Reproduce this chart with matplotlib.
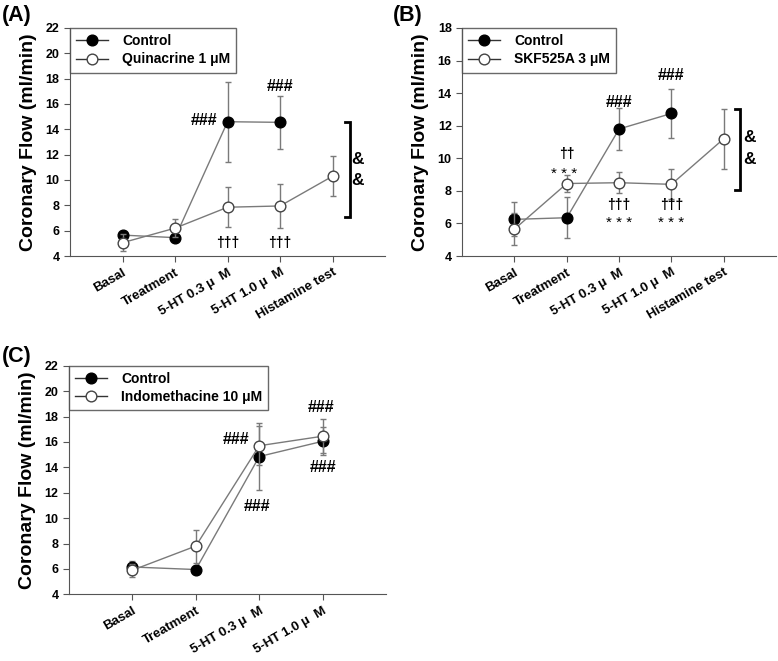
import numpy as np
import matplotlib
matplotlib.use("Agg")
import matplotlib.pyplot as plt
from matplotlib.lines import Line2D

plt.rcParams["font.family"] = ["Liberation Sans", "DejaVu Sans"]
plt.rcParams["font.weight"] = "bold"

# ------------------------------------------------------------------
# Datos
# ------------------------------------------------------------------
cats5 = ["Basal", "Treatment", "5-HT 0.3 \u03bc  M", "5-HT 1.0 \u03bc  M", "Histamine test"]
cats4 = cats5[:4]

# (A) Quinacrine
a_ctrl     = [5.65, 5.45, 14.6, 14.55, np.nan]
a_ctrl_err = [0.25, 0.2, 3.15, 2.1, np.nan]
a_trt      = [5.05, 6.2, 7.85, 7.95, 10.3]
a_trt_err  = [0.65, 0.7, 1.6, 1.75, 1.58]

# (B) SKF525A
b_ctrl     = [6.25, 6.35, 11.8, 12.75, np.nan]
b_ctrl_err = [1.05, 1.25, 1.3, 1.5, np.nan]
b_trt      = [5.65, 8.45, 8.5, 8.4, 11.2]
b_trt_err  = [1.0, 0.5, 0.65, 0.93, 1.85]

# (C) Indomethacine
c_ctrl     = [6.15, 5.95, 14.85, 16.05]
c_ctrl_err = [0.5, 0.3, 2.65, 1.1]
c_trt      = [5.9, 7.8, 15.7, 16.45]
c_trt_err  = [0.5, 1.3, 1.55, 1.35]

GREY = "#7a7a7a"
AX_C = "#555555"
MS = 7.7


def panel(ax, cats, ctrl, ctrl_err, trt, trt_err, trt_label, ymax):
    x = np.arange(len(cats))
    ax.errorbar(x, ctrl, yerr=ctrl_err, fmt="-o", color=GREY, ecolor=GREY,
                elinewidth=1, capsize=2.5, lw=1, ms=MS, mfc="black", mec="black",
                zorder=2)
    ax.errorbar(x, trt, yerr=trt_err, fmt="-o", color=GREY, ecolor=GREY,
                elinewidth=1, capsize=2.5, lw=1, ms=MS, mfc="white", mec="#444444",
                zorder=3)
    ax.set_xlim(-1, len(cats))
    ax.set_ylim(4, ymax)
    ax.set_yticks(np.arange(4, ymax + 1, 2))
    ax.set_xticks(x)
    ax.set_xticklabels(cats, rotation=30, ha="right", rotation_mode="anchor",
                       fontsize=9.5, fontweight="bold")
    ax.tick_params(axis="y", labelsize=9, length=4, color=AX_C)
    ax.tick_params(axis="x", length=4, color=AX_C)
    for lab in ax.get_yticklabels():
        lab.set_fontweight("bold")
    for s in ["top", "right"]:
        ax.spines[s].set_visible(False)
    for s in ["left", "bottom"]:
        ax.spines[s].set_color(AX_C)
    ax.set_ylabel("Coronary Flow (ml/min)", fontsize=14, fontweight="bold", labelpad=6)

    # leyenda: solo linea + marcador (sin barra de error)
    h_ctrl = Line2D([], [], color="#333333", lw=1, marker="o", ms=MS,
                    mfc="black", mec="black")
    h_trt = Line2D([], [], color="#333333", lw=1, marker="o", ms=MS,
                   mfc="white", mec="#444444")
    leg = ax.legend([h_ctrl, h_trt], ["Control", trt_label],
                    loc="upper left", bbox_to_anchor=(0, 1), borderaxespad=0,
                    fancybox=False, edgecolor="#444444",
                    prop={"weight": "bold", "size": 10}, handlelength=2.3,
                    handletextpad=1.0, borderpad=0.45, labelspacing=0.3)
    leg.get_frame().set_linewidth(1)
    return ax


def bracket(ax, x, y0, y1, xt):
    ax.plot([xt, x, x, xt], [y1, y1, y0, y0], color="black", lw=2,
            clip_on=False, solid_joinstyle="miter")


fig = plt.figure(figsize=(7.78, 6.61), dpi=100)
axA = fig.add_axes([0.090, 0.6127, 0.405, 0.345])
axB = fig.add_axes([0.594, 0.6127, 0.4036, 0.345])
axC = fig.add_axes([0.0887, 0.1009, 0.4075, 0.3458])

# (A)
panel(axA, cats5, a_ctrl, a_ctrl_err, a_trt, a_trt_err, "Quinacrine 1 \u03bcM", 22)
axA.text(1.8, 14.7, "###", ha="right", va="center", fontsize=11.5)
axA.text(3.0, 17.4, "###", ha="center", va="center", fontsize=11.5)
for xi in [2, 3]:
    axA.text(xi, 5.05, "\u2020\u2020\u2020", ha="center", va="center", fontsize=10)
bracket(axA, 4.33, 7.1, 14.57, 4.23)
axA.text(4.47, 11.6, "&", ha="center", va="center", fontsize=12.5)
axA.text(4.47, 9.95, "&", ha="center", va="center", fontsize=12.5)

# (B)
panel(axB, cats5, b_ctrl, b_ctrl_err, b_trt, b_trt_err, "SKF525A 3 \u03bcM", 18)
axB.text(1.0, 10.25, "\u2020\u2020", ha="center", va="center", fontsize=10)
axB.text(0.95, 9.05, "* * *", ha="center", va="center", fontsize=11, fontweight="normal")
axB.text(2.0, 13.4, "###", ha="center", va="center", fontsize=11.5)
axB.text(3.0, 15.1, "###", ha="center", va="center", fontsize=11.5)
for xi in [2, 3]:
    axB.text(xi, 7.15, "\u2020\u2020\u2020", ha="center", va="center", fontsize=10)
    axB.text(xi, 6.05, "* * *", ha="center", va="center", fontsize=11, fontweight="normal")
bracket(axB, 4.31, 8.04, 13.03, 4.22)
axB.text(4.5, 11.25, "&", ha="center", va="center", fontsize=12.5)
axB.text(4.5, 9.95, "&", ha="center", va="center", fontsize=12.5)

# (C)
panel(axC, cats4, c_ctrl, c_ctrl_err, c_trt, c_trt_err, "Indomethacine 10 \u03bcM", 22)
axC.text(1.84, 16.2, "###", ha="right", va="center", fontsize=11.5)
axC.text(1.96, 10.95, "###", ha="center", va="center", fontsize=11.5)
axC.text(2.98, 18.7, "###", ha="center", va="center", fontsize=11.5)
axC.text(3.0, 13.95, "###", ha="center", va="center", fontsize=11.5)

# etiquetas de panel
fig.text(0.002, 0.976, "(A)", fontsize=15.5, fontweight="bold", va="center")
fig.text(0.505, 0.976, "(B)", fontsize=15.5, fontweight="bold", va="center")
fig.text(0.002, 0.46, "(C)", fontsize=15.5, fontweight="bold", va="center")

fig.savefig("out.png", dpi=100)
